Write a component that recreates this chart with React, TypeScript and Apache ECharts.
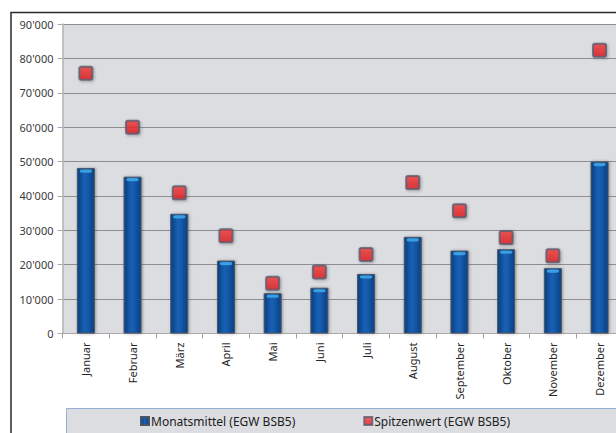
import React, { useEffect, useRef } from "react";
import * as echarts from "echarts";

const months = [
  "Januar", "Februar", "März", "April", "Mai", "Juni",
  "Juli", "August", "September", "Oktober", "November", "Dezember",
];
// Monthly mean load (EGW BSB5)
const monatsmittel = [48100, 45600, 34800, 21200, 11700, 13300, 17300, 28100, 24100, 24500, 19000, 50000];
// Peak load (EGW BSB5)
const spitzenwert = [75700, 60000, 40900, 28400, 14600, 17900, 23000, 43900, 35700, 27900, 22600, 82400];
const yTicks = [0, 10000, 20000, 30000, 40000, 50000, 60000, 70000, 80000, 90000];

const fmt = (v: number) => (v === 0 ? "0" : `${Math.round(v / 1000)}'000`);

// square marker with slightly rounded corners
const markerPath =
  "path://M2,0 L12,0 Q14,0 14,2 L14,12 Q14,14 12,14 L2,14 Q0,14 0,12 L0,2 Q0,0 2,0 Z";

export default function App() {
  const ref = useRef<HTMLDivElement>(null);

  useEffect(() => {
    if (!ref.current) return;
    const chart = echarts.init(ref.current, undefined, { renderer: "svg" });
    const font = "'Noto Sans', 'DejaVu Sans', sans-serif";
    const barGradient = new echarts.graphic.LinearGradient(0, 0, 1, 0, [
      { offset: 0, color: "#0b3f80" },
      { offset: 0.45, color: "#1762b8" },
      { offset: 1, color: "#0c4184" },
    ]);
    const markerGradient = new echarts.graphic.LinearGradient(0, 0, 0, 1, [
      { offset: 0, color: "#f23c3c" },
      { offset: 1, color: "#e0181c" },
    ]);

    chart.setOption({
      animation: false,
      backgroundColor: "#ffffff",
      textStyle: { fontFamily: font },
      graphic: [
        {
          type: "rect",
          shape: { x: 3, y: 4.5, width: 700, height: 600 },
          style: { fill: "none", stroke: "#2a2a2a", lineWidth: 1.5 },
          silent: true,
          z: 0,
        },
        {
          type: "rect",
          shape: { x: 58.5, y: 400.5, width: 640, height: 30 },
          style: { fill: "#dcdde0", stroke: "#93b1d7", lineWidth: 1 },
          silent: true,
          z: 0,
        },
      ],
      legend: {
        data: [
          { name: "Monatsmittel (EGW BSB5)", icon: "rect" },
          { name: "Spitzenwert (EGW BSB5)", icon: "rect" },
        ],
        left: 127,
        top: 402,
        itemWidth: 8,
        itemHeight: 8,
        itemGap: 68,
        textStyle: { fontFamily: font, fontSize: 12, color: "#202020", padding: [0, 0, 0, -3] },
      },
      grid: {
        left: 54.5,
        top: 16,
        width: 560.4,
        height: 309.5,
        show: true,
        backgroundColor: "#dcdde0",
        borderWidth: 0,
      },
      xAxis: {
        type: "category",
        data: months,
        axisLine: { show: true, lineStyle: { color: "#a8a8a8", width: 1 } },
        axisTick: { show: true, length: 5, lineStyle: { color: "#a0a0a0" } },
        axisLabel: {
          rotate: 90,
          margin: 9,
          fontSize: 11,
          color: "#262626",
          fontFamily: font,
        },
      },
      yAxis: {
        type: "value",
        min: 0,
        max: 90000,
        interval: 10000,
        axisLine: { show: true, lineStyle: { color: "#b4b4b4", width: 1.5 } },
        axisTick: { show: true, length: 5, lineStyle: { color: "#a8a8a8" } },
        axisLabel: {
          formatter: (v: number) => (yTicks.includes(v) ? fmt(v) : ""),
          fontSize: 11,
          color: "#3a3a3a",
          margin: 9,
          fontFamily: font,
        },
        splitLine: { show: true, lineStyle: { color: "#8e8e8e", width: 1 } },
      },
      series: [
        {
          name: "Monatsmittel (EGW BSB5)",
          type: "bar",
          data: monatsmittel,
          barWidth: 18,
          itemStyle: {
            color: barGradient,
            borderColor: "#4a5566",
            borderWidth: 1,
            shadowColor: "rgba(60,60,60,0.45)",
            shadowBlur: 3,
            shadowOffsetX: 1,
            shadowOffsetY: 0,
          },
          z: 2,
        },
        {
          name: "Glanz",
          type: "pictorialBar",
          data: monatsmittel,
          barWidth: 18,
          barGap: "-100%",
          symbol: "roundRect",
          symbolSize: [12, 3],
          symbolPosition: "end",
          symbolOffset: [0, 1.5],
          itemStyle: { color: "#3a9fe0" },
          silent: true,
          z: 3,
        },
        {
          name: "Spitzenwert (EGW BSB5)",
          type: "scatter",
          data: spitzenwert,
          symbol: markerPath,
          symbolSize: 13,
          itemStyle: {
            color: markerGradient,
            borderColor: "#5b5b70",
            borderWidth: 2,
            shadowColor: "rgba(40,40,40,0.4)",
            shadowBlur: 3,
            shadowOffsetX: 1,
            shadowOffsetY: 1,
          },
          z: 4,
        },
      ],
    });
    return () => chart.dispose();
  }, []);

  return (
    <div
      style={{
        position: "fixed",
        left: 8,
        top: 8,
        width: 608,
        height: 425,
        overflow: "hidden",
      }}
    >
      <div ref={ref} style={{ width: 640, height: 425 }} />
    </div>
  );
}
